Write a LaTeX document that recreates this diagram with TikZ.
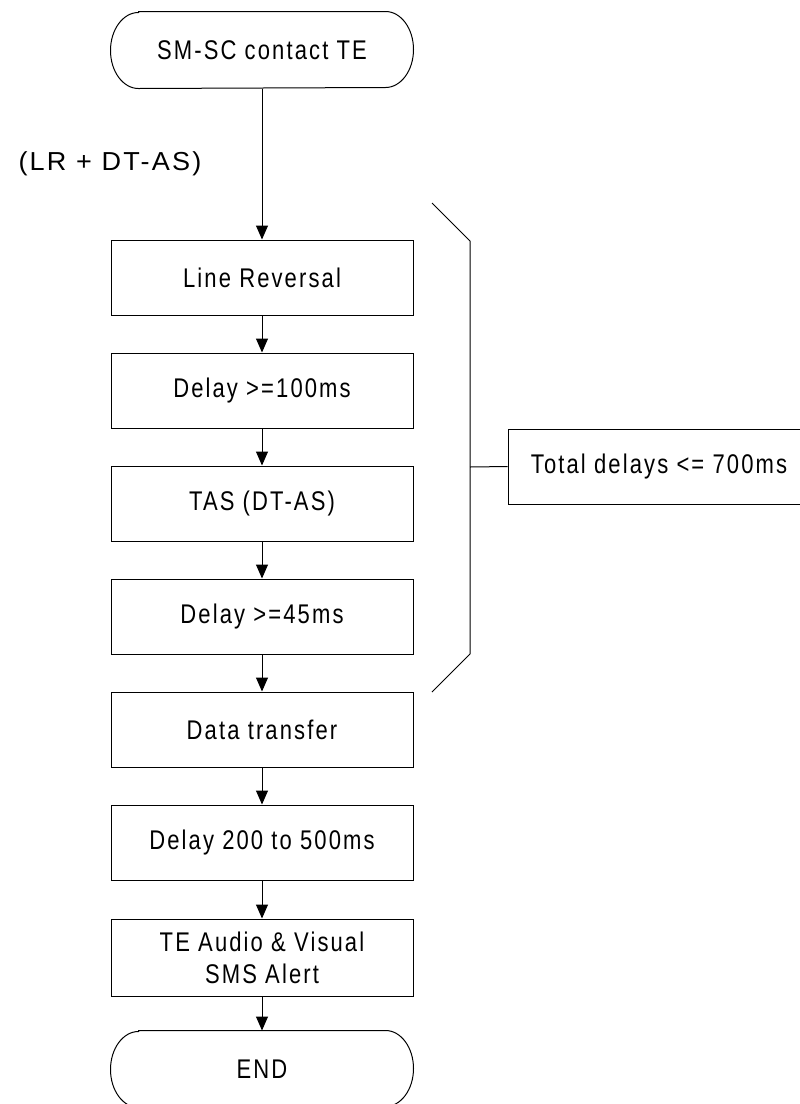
\documentclass[tikz,border=0pt]{standalone}
\usepackage{fontspec}
\setmainfont{Liberation Sans}[FakeStretch=0.815, LetterSpace=7.85]
\newfontfamily\widesans{Liberation Sans}[FakeStretch=1.04, LetterSpace=8.5]
\usetikzlibrary{arrows.meta}

\begin{document}
\begin{tikzpicture}[x=1pt, y=1pt,
  font=\fontsize{27}{32}\selectfont,
  line width=1pt,
  procbox/.style={draw, rectangle, minimum width=302pt, minimum height=75pt,
                  inner sep=0pt, align=center},
  termbox/.style={rectangle, minimum width=302pt, minimum height=76pt,
                  inner sep=0pt, align=center},
  flow/.style={-{Triangle[width=12pt, length=14pt]}},
  link/.style={-}
]
\useasboundingbox (0,0) rectangle (800,-1104);
\clip (0,0) rectangle (800,-1104);

% terminals drawn as stadiums with elliptic ends
\newcommand{\stadium}[1]{%
  \draw ([xshift=28pt]#1.north west) -- ([xshift=-28pt]#1.north east)
        arc[start angle=90, end angle=-90, x radius=28pt, y radius=38pt]
        -- ([xshift=28pt]#1.south west)
        arc[start angle=270, end angle=90, x radius=28pt, y radius=38pt]
        -- cycle;}

\node[termbox] (start) at (262,-50) {SM-SC contact TE};
\stadium{start}

\node[font=\widesans\fontsize{26}{32}\selectfont] (note) at (110,-164) {(LR + DT-AS)};

\node[procbox] (lr)    at (262,-277.5) {Line Reversal};
\node[procbox] (d100)  at (262,-390.5) {Delay >=100ms};
\node[procbox] (tas)   at (262,-503.5) {TAS (DT-AS)};
\node[procbox] (d45)   at (262,-616.5) {Delay >=45ms};
\node[procbox] (data)  at (262,-729.5) {Data transfer};
\node[procbox] (d200)  at (262,-842.5) {Delay 200 to 500ms};
\node[procbox, minimum height=77pt] (alert) at (262,-957.5) {TE Audio \& Visual\\SMS Alert};

\node[termbox] (end) at (262,-1069) {END};
\stadium{end}

\draw[flow] (start) -- (lr);
\draw[flow] (lr) -- (d100);
\draw[flow] (d100) -- (tas);
\draw[flow] (tas) -- (d45);
\draw[flow] (d45) -- (data);
\draw[flow] (data) -- (d200);
\draw[flow] (d200) -- (alert);
\draw[flow] (alert) -- (end);

% bracket grouping the timed steps
\coordinate (b1) at (432,-203);
\coordinate (b2) at (470,-241);
\coordinate (b3) at (470,-654);
\coordinate (b4) at (432,-692);
\coordinate (bm) at (470,-467);
\draw[link] (b1) -- (b2) -- (b3) -- (b4);

\node[procbox] (total) at (659,-466.5) {Total delays <= 700ms};
\draw[link] (bm) -- (total.west);
\end{tikzpicture}
\end{document}
